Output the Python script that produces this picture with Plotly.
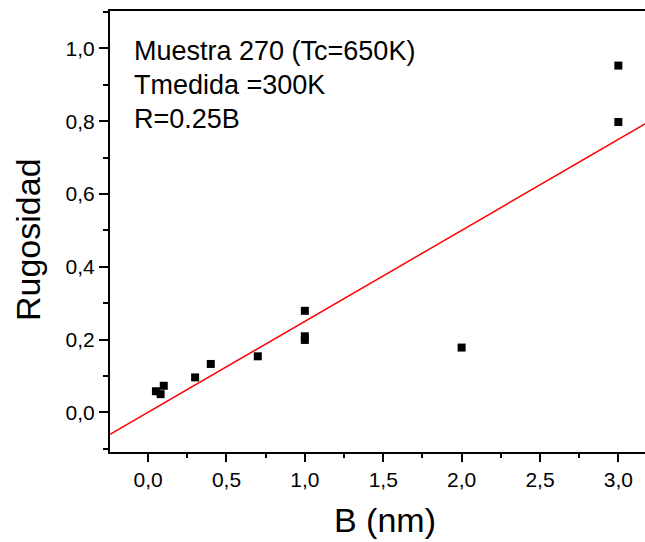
import plotly.graph_objects as go

# Data
B_nm = [0.05, 0.08, 0.10, 0.30, 0.40, 0.70, 1.00, 1.00, 1.00, 2.00, 3.00, 3.00]
rugosidad = [0.058, 0.050, 0.073, 0.096, 0.133, 0.154, 0.279, 0.209, 0.199, 0.178, 0.953, 0.798]
slope = 0.25  # R = 0.25 B

x_range = [-0.243, 3.17]
y_range = [-0.109, 1.103]

text_lines = ["Muestra 270 (Tc=650K)", "Tmedida =300K", "R=0.25B"]
x_title = "B (nm)"
y_title = "Rugosidad"

FONT = "Liberation Sans, Arial, sans-serif"
W, H = 645, 542
ML, MT, MB = 110, 11, 90
PW, PH = W - ML, H - MT - MB

fig = go.Figure()
fig.add_trace(go.Scatter(
    x=x_range, y=[slope * v for v in x_range], mode="lines",
    line=dict(color="#ff0000", width=1.5), showlegend=False, hoverinfo="skip"))
fig.add_trace(go.Scatter(
    x=B_nm, y=rugosidad, mode="markers",
    marker=dict(symbol="square", size=8, color="black"), showlegend=False))

for i, t in enumerate(text_lines):
    fig.add_annotation(
        x=(132 - ML) / PW, xref="paper", xanchor="left",
        y=1 - (51 + 34 * i - MT) / PH, yref="paper", yanchor="middle",
        text=t, showarrow=False, font=dict(family=FONT, size=27, color="black"))

# axis titles placed as annotations for exact positioning
fig.add_annotation(
    x=(385 - ML) / PW, xref="paper", xanchor="center",
    y=1 - (520 - MT) / PH, yref="paper", yanchor="middle",
    text=x_title, showarrow=False, font=dict(family=FONT, size=34, color="black"))
fig.add_annotation(
    x=(28 - ML) / PW, xref="paper", xanchor="center",
    y=1 - (240 - MT) / PH, yref="paper", yanchor="middle",
    text=y_title, textangle=-90, showarrow=False,
    font=dict(family=FONT, size=34, color="black"))

fig.update_layout(
    template="none",
    width=W, height=H,
    margin=dict(l=ML, r=0, t=MT, b=MB, autoexpand=False),
    paper_bgcolor="white", plot_bgcolor="white",
    separators=",.",
    font=dict(family=FONT, color="black"),
    xaxis=dict(
        automargin=False,
        range=x_range, dtick=0.5, tick0=0, tickformat=".1f",
        showline=True, linecolor="black", linewidth=2, mirror=True,
        ticks="outside", ticklen=8, tickwidth=1.5, tickcolor="black",
        minor=dict(dtick=0.25, tick0=0, ticks="outside", ticklen=4, tickwidth=1.5, tickcolor="black"),
        showgrid=False, zeroline=False,
        tickfont=dict(size=21, family=FONT),
    ),
    yaxis=dict(
        automargin=False,
        range=y_range, dtick=0.2, tick0=0, tickformat=".1f",
        showline=True, linecolor="black", linewidth=2,
        ticks="outside", ticklen=9, tickwidth=1.5, tickcolor="black",
        minor=dict(dtick=0.1, tick0=0, ticks="outside", ticklen=5, tickwidth=1.5, tickcolor="black"),
        showgrid=False, zeroline=False,
        tickfont=dict(size=21, family=FONT),
    ),
)

fig.write_html("out.html", config={"displayModeBar": False},
               post_script="document.body.style.margin='0';")
